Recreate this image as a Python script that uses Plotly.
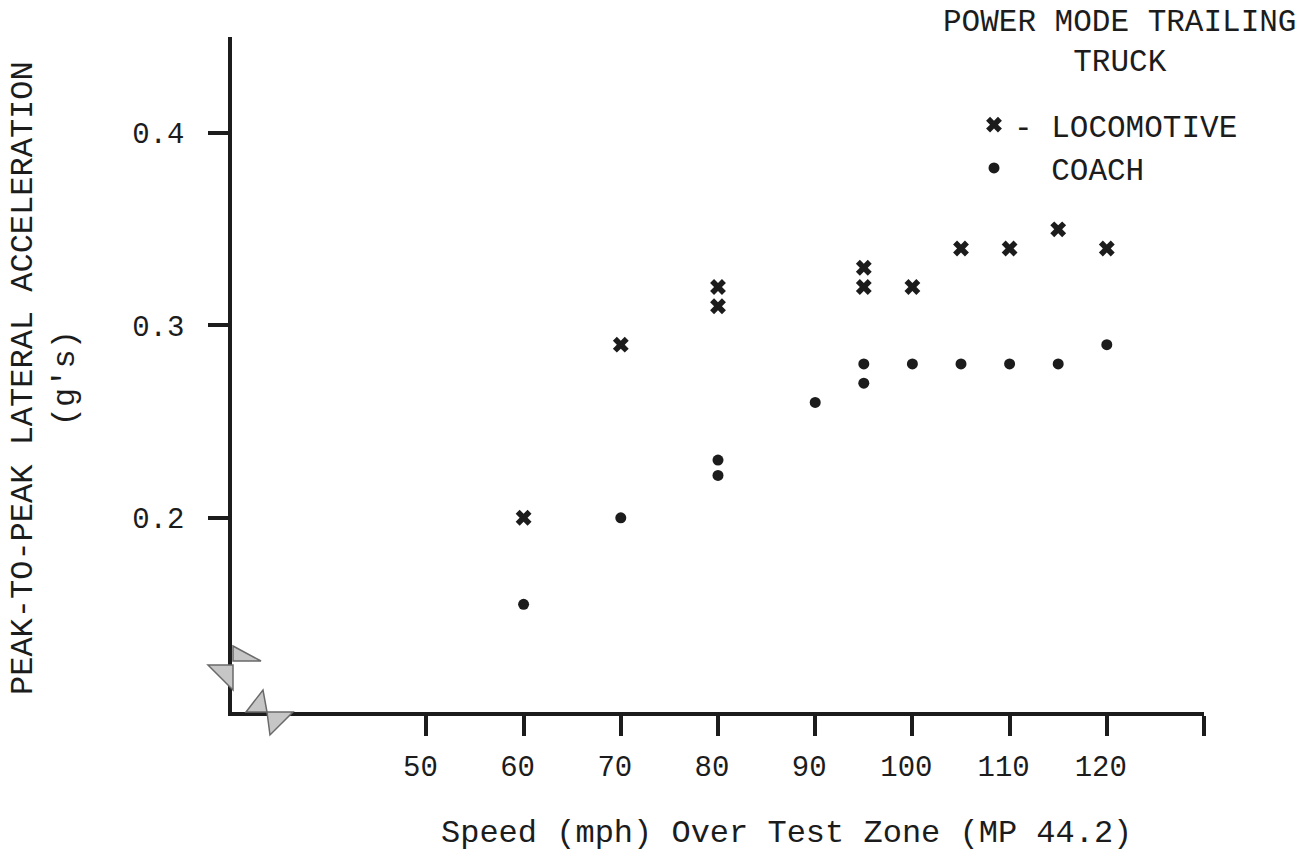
import plotly.graph_objects as go

# Power mode, trailing truck: peak-to-peak lateral acceleration vs speed (MP 44.2)
loco_speed = [60, 70, 80, 80, 95, 95, 100, 105, 110, 115, 120]
loco_accel = [0.20, 0.29, 0.32, 0.31, 0.33, 0.32, 0.32, 0.34, 0.34, 0.35, 0.34]

coach_speed = [60, 70, 80, 80, 90, 95, 95, 100, 105, 110, 115, 120]
coach_accel = [0.155, 0.20, 0.23, 0.222, 0.26, 0.28, 0.27, 0.28, 0.28, 0.28, 0.28, 0.29]

x_ticks = [50, 60, 70, 80, 90, 100, 110, 120, 130]
x_labels = ["50", "60", "70", "80", "90", "100", "110", "120", ""]
y_ticks = [0.2, 0.3, 0.4]
y_labels = ["0.2", "0.3", "0.4"]

FONT = "Liberation Mono"
INK = "#1c1c1c"

W, H = 1311, 863
ML, MR, MT, MB = 232, 107, 37, 151
PW, PH = W - ML - MR, H - MT - MB


def px(xp):
    """pixel column -> paper x"""
    return (xp - ML) / PW


def py(yp):
    """pixel row -> paper y"""
    return (H - MB - yp) / PH


def tri(points):
    pts = [f"{px(a):.5f},{py(b):.5f}" for a, b in points]
    return "M " + " L ".join(pts) + " Z"


fig = go.Figure()

fig.add_trace(go.Scatter(
    x=loco_speed, y=loco_accel, mode="markers", name="- LOCOMOTIVE",
    marker=dict(symbol="x", size=14, color=INK, line=dict(width=0)),
))
fig.add_trace(go.Scatter(
    x=coach_speed, y=coach_accel, mode="markers", name="\u00a0\u00a0COACH",
    marker=dict(symbol="circle", size=11, color=INK, line=dict(width=0)),
))

axis_common = dict(
    showline=True, linewidth=3.5, linecolor=INK,
    ticks="outside", ticklen=20, tickwidth=3.5, tickcolor=INK,
    showgrid=False, zeroline=False,
    tickfont=dict(family=FONT, size=29, color=INK),
)

fig.update_xaxes(
    range=[30, 130], tickmode="array", tickvals=x_ticks, ticktext=x_labels,
    ticklabelstandoff=5, ticklabelshift=-6, **axis_common,
)
fig.update_yaxes(
    range=[0.099, 0.45], tickmode="array", tickvals=y_ticks, ticktext=y_labels,
    ticklabelstandoff=18, **axis_common,
)

# axis break marks near the origin
break_fill = "#c6c6c6"
break_edge = "#6a6a6a"
for pts in (
    [(233, 646), (261, 661), (233, 661)],
    [(208, 665), (233, 665), (233, 690)],
    [(246, 712), (263, 690), (267, 712)],
    [(267, 712), (293, 712), (270, 735)],
):
    fig.add_shape(type="path", xref="paper", yref="paper", path=tri(pts),
                  fillcolor=break_fill, line=dict(color=break_edge, width=1.5),
                  layer="above")

annotations = [
    dict(text="POWER MODE TRAILING<br>TRUCK", x=px(1119), y=py(42), xanchor="center",
         yanchor="middle", align="center", font=dict(size=31)),
    dict(text="Speed (mph) Over Test Zone (MP 44.2)", x=px(786), y=py(833),
         xanchor="center", yanchor="middle", font=dict(size=32)),
    dict(text="PEAK-TO-PEAK LATERAL ACCELERATION<br>(g's)", x=px(44), y=py(378),
         xanchor="center", yanchor="middle", textangle=-90, font=dict(size=32)),
]
for a in annotations:
    a["font"].update(family=FONT, color=INK)
    fig.add_annotation(xref="paper", yref="paper", showarrow=False, **a)

fig.update_layout(
    width=W, height=H,
    margin=dict(l=ML, r=MR, t=MT, b=MB, pad=0),
    paper_bgcolor="white", plot_bgcolor="white",
    showlegend=True,
    legend=dict(
        x=px(974), y=py(98), xanchor="left", yanchor="top",
        font=dict(family=FONT, size=31, color=INK),
        bgcolor="rgba(0,0,0,0)", borderwidth=0,
        itemsizing="trace",
    ),
)

fig.write_html("out.html")
